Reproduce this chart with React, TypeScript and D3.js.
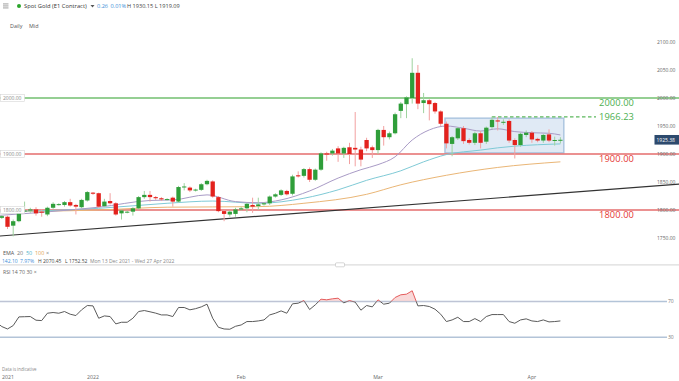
import React from 'react';
import * as d3 from 'd3';

const W = 679;
const H = 381;
const FONT = '"Open Sans", "DejaVu Sans", sans-serif';

// Daily bars (Sun-Fri sessions) from Mon 13 Dec 2021, index 0 .. 99 (Thu 7 Apr 2022)
const opens = [
  1785, 1786, 1788, 1772, 1780, 1798, 1799, 1801, 1797, 1792,
  1804, 1810, 1809, 1814, 1809, 1805, 1817, 1831, 1830, 1807,
  1816, 1812, 1794, 1796, 1797, 1803, 1823, 1827, 1823, 1821,
  1819, 1822, 1815, 1841, 1840, 1835, 1836, 1846, 1851, 1823,
  1798, 1792, 1793, 1801, 1803, 1809, 1807, 1810, 1812, 1824,
  1827, 1834, 1829, 1862, 1861, 1873, 1854, 1872, 1901, 1901,
  1910, 1901, 1912, 1911, 1908, 1925, 1912, 1907, 1943, 1930,
  1937, 1977, 1989, 2000, 2045, 1991, 1996, 1991, 1976, 1954,
  1918, 1928, 1946, 1925, 1920, 1937, 1922, 1948, 1960, 1957,
  1959, 1925, 1916, 1934, 1938, 1927, 1924, 1935, 1924, 1924.5,
];
const highs = [
  1790, 1791, 1790, 1783, 1799, 1815, 1804, 1805, 1801, 1806,
  1814, 1812, 1816, 1820, 1811, 1820, 1834, 1832, 1831, 1820,
  1830, 1814, 1801, 1799, 1805, 1825, 1834, 1834, 1825, 1823,
  1821, 1824, 1843, 1848, 1842, 1838, 1848, 1854, 1853, 1825,
  1800, 1799, 1804, 1806, 1813, 1822, 1822, 1814, 1826, 1830,
  1837, 1836, 1863, 1869, 1875, 1876, 1874, 1903, 1904, 1909,
  1914, 1913, 1920, 1975, 1913, 1929, 1915, 1945, 1950, 1940,
  1974, 1993, 2003, 2071, 2059, 2009, 1998, 1993, 1978, 1958,
  1932, 1948, 1950, 1928, 1940, 1941, 1949, 1967, 1966, 1962,
  1962, 1928, 1938, 1942, 1941, 1929, 1936, 1944, 1931, 1930,
];
const lows = [
  1782, 1784, 1766, 1753, 1778, 1796, 1795, 1790, 1788, 1789,
  1802, 1808, 1806, 1806, 1792, 1803, 1815, 1827, 1804, 1805,
  1810, 1790, 1783, 1794, 1790, 1801, 1820, 1815, 1818, 1816,
  1817, 1806, 1813, 1835, 1832, 1833, 1834, 1844, 1822, 1796,
  1780, 1788, 1788, 1799, 1796, 1795, 1800, 1808, 1809, 1822,
  1825, 1826, 1826, 1858, 1858, 1850, 1852, 1870, 1888, 1897,
  1886, 1893, 1882, 1878, 1878, 1905, 1893, 1900, 1915, 1926,
  1935, 1964, 1964, 1990, 1980, 1973, 1960, 1972, 1950, 1910,
  1896, 1925, 1918, 1917, 1916, 1910, 1918, 1944, 1942, 1952,
  1920, 1892, 1913, 1930, 1920, 1921, 1920, 1921, 1915, 1919,
];
const closes = [
  1787, 1789, 1770, 1780, 1795, 1799, 1801, 1794, 1796, 1804,
  1811, 1810.5, 1814, 1808, 1806, 1818, 1832, 1829, 1806, 1815,
  1812, 1792, 1799, 1797, 1803, 1823, 1827, 1823, 1821, 1819,
  1819.5, 1815, 1841, 1842, 1835, 1836.5, 1846, 1852, 1824, 1798,
  1793, 1797, 1801, 1803, 1811, 1806, 1810, 1812, 1824, 1828,
  1835, 1828, 1860, 1860, 1873, 1854, 1872, 1901, 1899, 1906,
  1901, 1911, 1900, 1908, 1890, 1910, 1907, 1943, 1930, 1937,
  1971, 1990, 2001, 2045, 1990, 1996, 1989, 1976, 1954, 1919,
  1930, 1946, 1923, 1920, 1937, 1920, 1947, 1961, 1958, 1957.5,
  1924, 1916, 1936, 1938, 1926, 1924, 1934, 1924, 1925, 1925.4,
];

const rsiValues = [
  47, 42, 39.3, 43.1, 52.8, 53.0, 53.2, 49.1, 48.7, 56.9,
  57.7, 56.9, 58.8, 55.8, 54.3, 60.7, 65.5, 65.1, 51.3, 53.9,
  53.2, 45.0, 46.8, 46.8, 51.3, 58.8, 59.9, 58.5, 57.0, 55.0,
  55.0, 53.2, 63.3, 63.3, 60.7, 62.0, 64.0, 67.0, 51.3, 41.2,
  39.3, 39.0, 42.3, 43.8, 47.6, 47.6, 48.3, 49.4, 55.0, 56.9,
  59.5, 56.9, 67.4, 68.1, 71.1, 61.0, 66.3, 72.6, 71.9, 73.0,
  73.7, 68.5, 71.1, 69.3, 60.3, 65.5, 64.0, 71.9, 67.0, 68.1,
  74.5, 77.5, 78.2, 82.0, 65.1, 65.5, 64.4, 61.4, 55.8, 47.6,
  49.4, 52.4, 47.6, 47.6, 50.9, 47.6, 53.2, 55.4, 55.4, 55.4,
  47.6, 45.7, 49.4, 50.6, 48.3, 47.6, 49.4, 47.2, 47.6, 48.3,
];

// EMA readings: [bar index, price]
const ema20 = [
  [0, 1790], [7, 1795], [14, 1801], [18, 1805], [27, 1817], [31, 1818], [37, 1827],
  [42, 1815], [46, 1813], [50, 1818], [55, 1834], [60, 1857], [64, 1872], [67, 1881],
  [70, 1895], [73, 1925], [76, 1943], [79, 1950], [82, 1946], [85, 1941], [88, 1945],
  [91, 1940], [94, 1938], [97, 1937], [99, 1934],
];
const ema50 = [
  [0, 1797], [9, 1799], [18, 1803], [30, 1812], [38, 1816], [46, 1812], [54, 1821],
  [60, 1836], [65, 1853], [71, 1870], [75, 1886], [79, 1899], [85, 1907], [88, 1911],
  [91, 1914], [99, 1918],
];
const ema100 = [
  [0, 1797], [18, 1800], [30, 1805], [46, 1806], [54, 1812], [65, 1828], [71, 1845],
  [79, 1862], [88, 1876], [99, 1886],
];

const trendLine = [[0, 1753], [120, 1846.5]];
const rangeBox = { from: 78.75, to: 99.6, low: 1902, high: 1964 };
const resistance = { from: 87, price: 1966.23 };

const priceTicks = [1750, 1800, 1850, 1900, 1950, 2000, 2050, 2100];
const levelPrices = [2000, 1900, 1800];
const levelKinds = ['up', 'down', 'down'];
const monthLabels = ['2022', 'Feb', 'Mar', 'Apr'];
const monthIndex = [17, 43, 67, 94];
const lastPrice = 1925.38;

const GREEN = '#2f9e3a';
const RED = '#e3221d';
const GREEN_WICK = '#9fd39f';
const RED_WICK = '#f2a0a0';
const LVL_GREEN = '#72bf6f';
const LVL_RED = '#e46c6c';
const TXT_GREEN = '#4caf50';
const TXT_RED = '#e53935';

export default function App() {
  const x = d3.scaleLinear().domain([0, 116]).range([-3.9, 657.3]);
  const y = d3.scaleLinear().domain([1750, 2100]).range([238, 42]);
  const ry = d3.scaleLinear().domain([30, 70]).range([337.3, 301.5]);
  const bw = 4.3;

  const emaLine = d3
    .line<number[]>()
    .x((d) => x(d[0]))
    .y((d) => y(d[1]))
    .curve(d3.curveMonotoneX);

  const rsiLine = d3
    .line<number>()
    .x((_, i) => x(i))
    .y((d) => ry(d));
  const rsiArea = d3
    .area<number>()
    .x((_, i) => x(i))
    .y0(ry(70))
    .y1((d) => ry(d));

  const y70 = ry(70);

  return (
    <svg
      width={W}
      height={H}
      style={{ position: 'absolute', left: 0, top: 0, background: '#fff' }}
      fontFamily={FONT}
    >
      <defs>
        <clipPath id="mainClip">
          <rect x={0} y={35} width={W} height={228} />
        </clipPath>
        <clipPath id="ob">
          <rect x={0} y={266} width={W} height={y70 - 266} />
        </clipPath>
        <clipPath id="norm">
          <rect x={0} y={y70} width={W} height={H - y70} />
        </clipPath>
      </defs>
      <rect x={0} y={0} width={W} height={H} fill="#fff" />

      {/* header */}
      <g fill="#777">
        <rect x={3} y={3.6} width={5.5} height={0.7} />
        <rect x={3} y={5.6} width={5.5} height={0.7} />
        <rect x={3} y={7.6} width={5.5} height={0.7} />
      </g>
      <circle cx={19} cy={6} r={2} fill="#2aa52a" />
      <text x={24} y={8} fontSize={5.8} fill="#333">Spot Gold (E1 Contract)</text>
      <path d="M90.5,5 L94.5,5 L92.5,7.5 Z" fill="#555" />
      <text x={97} y={8} fontSize={5.6} fill="#3d8fd8">0.26</text>
      <text x={110.5} y={8} fontSize={5.6} fill="#3d8fd8">0.01%</text>
      <text x={127} y={8} fontSize={5.6} fill="#444">H 1930.15 L 1919.09</text>
      <text x={10} y={28} fontSize={5.4} fill="#555">Daily</text>
      <text x={29} y={28} fontSize={5.4} fill="#555">Mid</text>

      <g clipPath="url(#mainClip)">
        {/* range box */}
        <rect
          x={x(rangeBox.from)}
          y={y(rangeBox.high)}
          width={x(rangeBox.to) - x(rangeBox.from)}
          height={y(rangeBox.low) - y(rangeBox.high)}
          fill="#dbe6f3"
          fillOpacity={0.85}
          stroke="#a9c3df"
          strokeWidth={1.4}
        />

        {/* horizontal levels */}
        {levelPrices.map((p, k) => (
          <line
            key={p}
            x1={0}
            x2={W}
            y1={y(p)}
            y2={y(p)}
            stroke={levelKinds[k] === 'up' ? LVL_GREEN : LVL_RED}
            strokeWidth={1.3}
          />
        ))}

        {/* EMAs */}
        <path d={emaLine(ema100 as any) || ''} fill="none" stroke="#eab676" strokeWidth={1} />
        <path d={emaLine(ema50 as any) || ''} fill="none" stroke="#7fcad6" strokeWidth={1} />
        <path d={emaLine(ema20 as any) || ''} fill="none" stroke="#a99bc6" strokeWidth={1} />

        {/* trend line */}
        <line
          x1={x(trendLine[0][0])}
          y1={y(trendLine[0][1])}
          x2={x(trendLine[1][0])}
          y2={y(trendLine[1][1])}
          stroke="#333"
          strokeWidth={1.2}
        />

        {/* resistance dashed */}
        <line
          x1={x(resistance.from)}
          x2={596}
          y1={y(resistance.price)}
          y2={y(resistance.price)}
          stroke="#5cb85c"
          strokeWidth={1.1}
          strokeDasharray="3.5,2.5"
        />

        {/* candles */}
        {opens.map((o, i) => {
          const c = closes[i];
          const up = c >= o;
          const cx = x(i);
          const top = y(Math.max(o, c));
          const bot = y(Math.min(o, c));
          return (
            <g key={i}>
              <line
                x1={cx}
                x2={cx}
                y1={y(highs[i])}
                y2={y(lows[i])}
                stroke={up ? GREEN_WICK : RED_WICK}
                strokeWidth={1}
              />
              <rect
                x={cx - bw / 2}
                y={top}
                width={bw}
                height={Math.max(1, bot - top)}
                fill={up ? GREEN : RED}
              />
            </g>
          );
        })}
      </g>

      {/* left level labels */}
      {levelPrices.map((p) => (
        <g key={'l' + p}>
          <rect x={0.5} y={y(p) - 3.5} width={24} height={7} fill="#fff" stroke="#d5d5d5" strokeWidth={0.6} />
          <text x={3} y={y(p) + 1.8} fontSize={5} fill="#888">{p.toFixed(2)}</text>
        </g>
      ))}

      {/* right big level labels */}
      {levelPrices.map((p, k) => (
        <text
          key={'r' + p}
          x={599}
          y={y(p) + 8}
          fontSize={9.3}
          letterSpacing={0.1}
          fill={levelKinds[k] === 'up' ? TXT_GREEN : TXT_RED}
        >
          {p.toFixed(2)}
        </text>
      ))}
      <text x={599} y={y(resistance.price) + 3.3} fontSize={9.3} letterSpacing={0.1} fill={TXT_GREEN}>
        {resistance.price.toFixed(2)}
      </text>

      {/* price axis */}
      {priceTicks.map((p) => (
        <text key={'t' + p} x={657} y={y(p) + 1.8} fontSize={5} fill="#666">
          {p.toFixed(2)}
        </text>
      ))}
      <rect x={654.5} y={y(lastPrice) - 4.8} width={24.5} height={9.6} fill="#2d4a6e" />
      <text x={656.5} y={y(lastPrice) + 1.8} fontSize={5} fill="#fff">{lastPrice.toFixed(2)}</text>

      {/* EMA legend */}
      <text x={3} y={254.5} fontSize={5.4} fill="#555">EMA</text>
      <text x={17} y={254.5} fontSize={5.4} fill="#777">20</text>
      <text x={26} y={254.5} fontSize={5.4} fill="#4ab3c9">50</text>
      <text x={35} y={254.5} fontSize={5.4} fill="#e2a24f">100</text>
      <text x={46} y={254.5} fontSize={5.4} fill="#777">×</text>
      <text x={2} y={262.5} fontSize={5} fill="#3d8fd8">142.10</text>
      <text x={20} y={262.5} fontSize={5} fill="#3d8fd8">7.97%</text>
      <text x={38} y={262.5} fontSize={5} fill="#444">H 2070.45</text>
      <text x={65} y={262.5} fontSize={5} fill="#444">L 1752.52</text>
      <text x={90} y={262.5} fontSize={5} fill="#888">Mon 13 Dec 2021 - Wed 27 Apr 2022</text>

      {/* pane separator */}
      <line x1={0} x2={W} y1={264.8} y2={264.8} stroke="#dcdcdc" strokeWidth={1.2} />
      <rect x={335.5} y={262.8} width={9} height={4} rx={1} fill="#fff" stroke="#bbb" strokeWidth={0.6} />

      {/* RSI pane */}
      <text x={3} y={274} fontSize={5.2} fill="#666">RSI 14 70 30 ×</text>
      {[70, 30].map((v) => (
        <g key={'rl' + v}>
          <line x1={0} x2={667} y1={ry(v)} y2={ry(v)} stroke="#b3c4d8" strokeWidth={1.6} />
          <text x={668} y={ry(v) + 1.8} fontSize={5} fill="#777">{v}</text>
        </g>
      ))}
      <path d={rsiArea(rsiValues) || ''} fill="#f7c9c9" fillOpacity={0.7} clipPath="url(#ob)" />
      <path d={rsiLine(rsiValues) || ''} fill="none" stroke="#e45c5c" strokeWidth={1} clipPath="url(#ob)" />
      <path d={rsiLine(rsiValues) || ''} fill="none" stroke="#5a5a5a" strokeWidth={1} clipPath="url(#norm)" />

      {/* footer */}
      <text x={2} y={370.5} fontSize={4.4} fill="#888">Data is indicative</text>
      <text x={2} y={379} fontSize={5.2} fill="#666">2021</text>
      {monthLabels.map((m, k) => (
        <text key={m} x={x(monthIndex[k])} y={379} fontSize={5.2} fill="#666" textAnchor="middle">
          {m}
        </text>
      ))}
    </svg>
  );
}
